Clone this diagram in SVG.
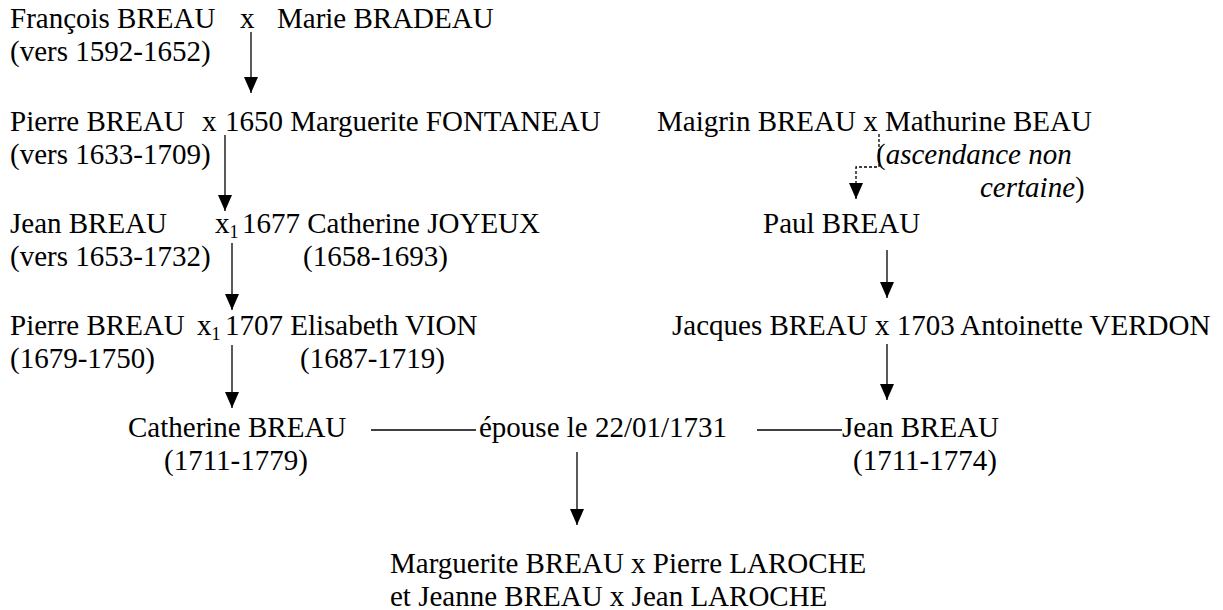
<svg xmlns="http://www.w3.org/2000/svg" width="1223" height="610" viewBox="0 0 1223 610">
<style>
text{font-family:'Liberation Serif',serif;font-size:29px;fill:#000}
.it{font-style:italic}
.sub{font-size:18px}
.ln{stroke:#000;stroke-width:1.3;fill:none}
.dash{stroke:#000;stroke-width:1.3;fill:none;stroke-dasharray:3,2}
</style>
<defs>
<marker id="ah" markerUnits="userSpaceOnUse" markerWidth="16" markerHeight="15" refX="16" refY="7" orient="auto" viewBox="0 0 16 14">
<path d="M0,0 L16,7 L0,14 Z" fill="#000"/>
</marker>
</defs>
<rect width="1223" height="610" fill="#fff"/>
<g id="connectors">
<line class="ln" x1="251" y1="32" x2="251" y2="93" marker-end="url(#ah)"/>
<line class="ln" x1="225" y1="135" x2="225" y2="211" marker-end="url(#ah)"/>
<line class="ln" x1="232" y1="243" x2="232" y2="310" marker-end="url(#ah)"/>
<line class="ln" x1="232" y1="345" x2="232" y2="408" marker-end="url(#ah)"/>
<line class="ln" x1="577" y1="452" x2="577" y2="525" marker-end="url(#ah)"/>
<line class="ln" x1="887" y1="250" x2="887" y2="298" marker-end="url(#ah)"/>
<line class="ln" x1="887" y1="344" x2="887" y2="400" marker-end="url(#ah)"/>
<polyline class="dash" points="879,134 879,167 856,167 856,199" marker-end="url(#ah)"/>
<line class="ln" x1="371" y1="430" x2="476" y2="430"/>
<line class="ln" x1="757" y1="430" x2="842" y2="430"/>
</g>
<g id="francois">
<text y="28"><tspan x="10">François BREAU</tspan><tspan x="240">x</tspan><tspan x="277">Marie BRADEAU</tspan></text>
<text x="10" y="61">(vers 1592-1652)</text>
</g>
<g id="pierre1650">
<text y="131"><tspan x="10">Pierre BREAU</tspan><tspan x="202">x</tspan><tspan x="225">1650 Marguerite FONTANEAU</tspan></text>
<text x="10" y="164">(vers 1633-1709)</text>
</g>
<g id="maigrin">
<text x="657" y="131">Maigrin BREAU x Mathurine BEAU</text>
<text x="876" y="164">(<tspan class="it">ascendance non</tspan></text>
<text x="980" y="197"><tspan class="it">certaine</tspan>)</text>
</g>
<g id="jean1677">
<text y="233"><tspan x="10">Jean BREAU</tspan><tspan x="215">x</tspan><tspan class="sub" dy="5">1</tspan><tspan x="242" dy="-5">1677 Catherine JOYEUX</tspan></text>
<text y="266"><tspan x="10">(vers 1653-1732)</tspan><tspan x="303">(1658-1693)</tspan></text>
</g>
<g id="paul">
<text x="763" y="233">Paul BREAU</text>
</g>
<g id="pierre1707">
<text y="335"><tspan x="10">Pierre BREAU</tspan><tspan x="197">x</tspan><tspan class="sub" dy="5">1</tspan><tspan x="225" dy="-5">1707 Elisabeth VION</tspan></text>
<text y="368"><tspan x="10">(1679-1750)</tspan><tspan x="300">(1687-1719)</tspan></text>
</g>
<g id="jacques">
<text x="672" y="335">Jacques BREAU x 1703 Antoinette VERDON</text>
</g>
<g id="catherine">
<text x="128" y="437">Catherine BREAU</text>
<text x="164" y="470">(1711-1779)</text>
</g>
<g id="mariage">
<text x="479" y="437">épouse le 22/01/1731</text>
</g>
<g id="jean1711">
<text x="842" y="437">Jean BREAU</text>
<text x="853" y="470">(1711-1774)</text>
</g>
<g id="enfants">
<text x="390" y="573">Marguerite BREAU x Pierre LAROCHE</text>
<text x="390" y="606">et Jeanne BREAU x Jean LAROCHE</text>
</g>
</svg>
